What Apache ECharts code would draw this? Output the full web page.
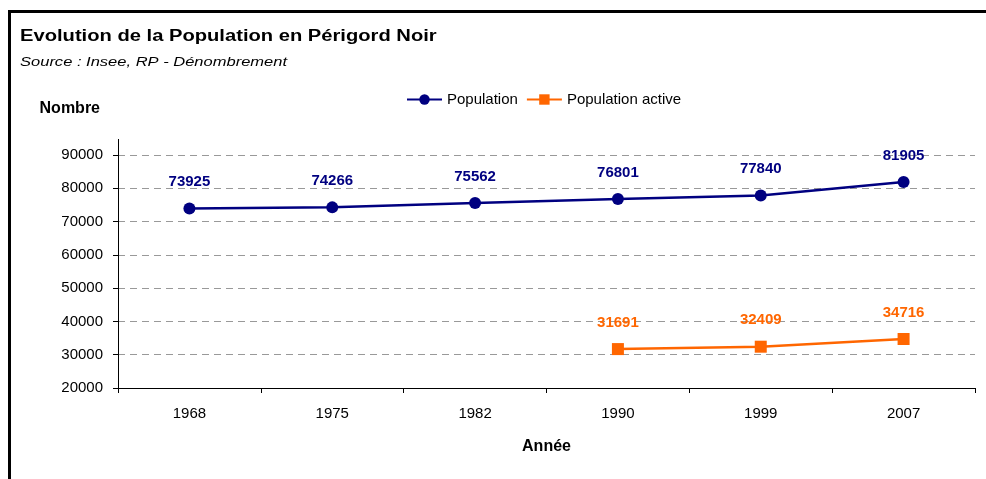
<!DOCTYPE html>
<html>
<head>
<meta charset="utf-8">
<script src="https://cdn.jsdelivr.net/npm/echarts@6/dist/echarts.min.js"></script>
<style>
html,body{margin:0;padding:0;background:#fff;}
#main{width:986px;height:479px;}
</style>
</head>
<body>
<div id="main"></div>
<script>
var annees = ['1968', '1975', '1982', '1990', '1999', '2007'];
var population = [73925, 74266, 75562, 76801, 77840, 81905];
var populationActive = [null, null, null, 31691, 32409, 34716];
var yMin = 20000, yMax = 90000, yStep = 10000;

var font = '"Liberation Sans", Arial, sans-serif';
var myChart = echarts.init(document.getElementById('main'));

var option = {
    backgroundColor: '#fff',
    animation: false,
    textStyle: {fontFamily: font},
    legend: {
        top: 87, left: 401,
        itemWidth: 35, itemHeight: 13, itemGap: 8,
        textStyle: {fontSize: 15, color: '#000', fontFamily: font},
        data: ['Population', 'Population active']
    },
    grid: {left: 118, right: 11, top: 155, bottom: 91},
    xAxis: {
        type: 'category',
        data: annees,
        boundaryGap: true,
        name: 'Année',
        nameLocation: 'middle',
        nameGap: 51,
        nameTextStyle: {fontSize: 16, fontWeight: 'bold', color: '#000'},
        axisLine: {lineStyle: {color: '#000', width: 1}},
        axisTick: {show: true, length: 5, inside: false, lineStyle: {color: '#000'}},
        axisLabel: {fontSize: 15, color: '#000', margin: 18}
    },
    yAxis: {
        type: 'value',
        min: yMin, max: yMax, interval: yStep,
        name: 'Nombre',
        nameLocation: 'end',
        nameGap: 38,
        nameTextStyle: {fontSize: 16, fontWeight: 'bold', color: '#000', align: 'right', padding: [0, 18, 0, 0]},
        axisLine: {show: true, lineStyle: {color: '#000', width: 1}},
        axisTick: {show: true, length: 5, lineStyle: {color: '#000'}},
        axisLabel: {fontSize: 15, color: '#000', margin: 15, formatter: function (v) { return String(v); }},
        splitLine: {show: true, lineStyle: {color: '#999', type: [7, 5], width: 1}}
    },
    series: [{
        name: 'Population',
        type: 'line',
        data: population,
        symbol: 'circle',
        symbolSize: 12,
        color: '#000080',
        lineStyle: {width: 2.5, color: '#000080'},
        itemStyle: {color: '#000080'},
        label: {show: true, position: 'top', distance: 13, fontSize: 15, fontWeight: 'bold', color: '#000080'}
    }, {
        name: 'Population active',
        type: 'line',
        data: populationActive,
        symbol: 'rect',
        symbolSize: 12,
        color: '#FF6600',
        lineStyle: {width: 2.5, color: '#FF6600'},
        itemStyle: {color: '#FF6600'},
        label: {show: true, position: 'top', distance: 13, fontSize: 15, fontWeight: 'bold', color: '#FF6600'}
    }],
    graphic: [{
        type: 'rect',
        shape: {x: 9.5, y: 11.5, width: 1200, height: 800},
        style: {fill: 'none', stroke: '#000', lineWidth: 3},
        silent: true
    }, {
        // the source picture is a little stretched sideways
        type: 'text',
        x: 20, y: 29, scaleX: 1.26,
        style: {
            text: 'Evolution de la Population en Périgord Noir',
            fontSize: 16, fontWeight: 'bold', fontFamily: font,
            fill: '#000', verticalAlign: 'top'
        },
        silent: true
    }, {
        type: 'text',
        x: 20, y: 56, scaleX: 1.27,
        style: {
            text: 'Source : Insee, RP - Dénombrement',
            fontSize: 13, fontStyle: 'italic', fontFamily: font,
            fill: '#000', verticalAlign: 'top'
        },
        silent: true
    }]
};
myChart.setOption(option);

// the plot area in the original goes a little above the 90000 line
var top90 = myChart.convertToPixel({yAxisIndex: 0}, yMax);
myChart.setOption({graphic: [{}, {}, {}, {
    type: 'line',
    shape: {x1: 118.5, y1: top90, x2: 118.5, y2: top90 - 16},
    style: {stroke: '#000', lineWidth: 1},
    silent: true
}]});
</script>
</body>
</html>
